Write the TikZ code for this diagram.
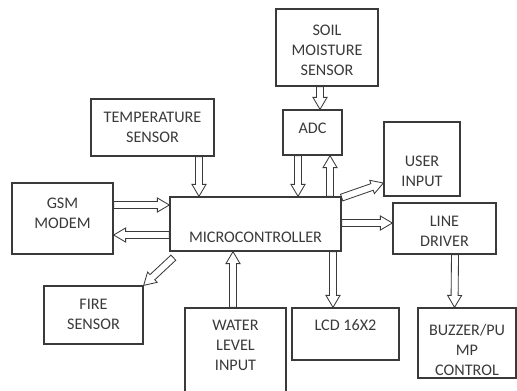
\documentclass[tikz,border=0pt]{standalone}
\usepackage{fontspec}
\setmainfont{Carlito}
\usepackage{xcolor}
\usepackage{tikz}
\usetikzlibrary{calc, positioning}

\definecolor{ink}{HTML}{3A3A3A}

\tikzset{
    box/.style={draw=ink, line width=0.9pt, align=center, text=ink, inner sep=2pt,
        font=\fontsize{11.5}{14.2}\selectfont},
    tx/.style 2 args={text height=#1, text depth=#2},
    hollow/.style={draw=ink, line width=0.6pt, line join=miter, to path={
        -- ($(\tikztostart)!2.5pt!90:(\tikztotarget)$)
        -- ($($(\tikztotarget)!8.5pt!(\tikztostart)$)!2.5pt!90:(\tikztotarget)$)
        -- ($($(\tikztotarget)!8.5pt!(\tikztostart)$)!5pt!90:(\tikztotarget)$)
        -- (\tikztotarget)
        -- ($($(\tikztotarget)!8.5pt!(\tikztostart)$)!5pt!-90:(\tikztotarget)$)
        -- ($($(\tikztotarget)!8.5pt!(\tikztostart)$)!2.5pt!-90:(\tikztotarget)$)
        -- ($(\tikztostart)!2.5pt!-90:(\tikztotarget)$)
        -- cycle}}
}

\begin{document}
\begin{tikzpicture}[x=0.025cm, y=-0.025cm]
    \useasboundingbox (0,0) rectangle (517,390);

    % Cac khoi
    \node[box, minimum width=2.55cm, minimum height=1.925cm, tx={1.45cm}{0.065cm}] (soil) at (327,47.5) {SOIL\\MOISTURE\\SENSOR};
    \node[box, minimum width=1.475cm, minimum height=1.125cm, tx={0.27cm}{0.21cm}] (adc) at (312.5,132.5) {ADC};
    \node[box, minimum width=1.9cm, minimum height=1.85cm, tx={1.43cm}{0.07cm}] (user) at (422,159) {USER\\INPUT};
    \node[box, minimum width=3.075cm, minimum height=1.425cm, tx={0.8cm}{0.065cm}] (temp) at (152.5,127.5) {TEMPERATURE\\SENSOR};
    \node[box, minimum width=2.525cm, minimum height=1.775cm, tx={0.555cm}{0.07cm}] (gsm) at (62.5,218.5) {GSM\\MODEM};
    \node[box, minimum width=4.275cm, minimum height=1.35cm, tx={0.98cm}{0.07cm}] (mcu) at (255.5,224) {MICROCONTROLLER};
    \node[box, minimum width=2.475cm, minimum height=1.45cm, tx={0.79cm}{0.065cm}] (fire) at (93.5,315) {FIRE\\SENSOR};
    \node[box, minimum width=2.525cm, minimum height=2.6cm, tx={0.58cm}{0.07cm}] (water) at (235.5,360) {WATER\\LEVEL\\INPUT};
    \node[box, minimum width=2.675cm, minimum height=1.3cm, tx={0.27cm}{0.46cm}] (lcd) at (345.5,334) {LCD 16X2};
    \node[box, minimum width=2.575cm, minimum height=1.275cm, tx={0.95cm}{0.065cm}] (line) at (444.5,228.5) {LINE\\DRIVER};
    \node[box, minimum width=2.45cm, minimum height=1.75cm, tx={1.61cm}{0cm}] (buzz) at (467,343) {BUZZER/PU\\MP\\CONTROL};

    % Cac mui ten
    \draw[hollow] ([xshift=-0.175cm]soil.south) to ([xshift=0.1875cm]adc.north);
    \draw[hollow] ([xshift=-0.3625cm]adc.south) to ([xshift=1.0625cm]mcu.north);
    \draw[hollow] ([xshift=1.8625cm]mcu.north) to ([xshift=0.4375cm]adc.south);
    \draw[hollow] ([yshift=-0.03cm]mcu.north east) to ([yshift=-0.6cm]user.west);
    \draw[hollow] ([xshift=1.1625cm]temp.south) to ([xshift=-1.4125cm]mcu.north);
    \draw[hollow] ([yshift=0.3375cm]gsm.east) to ([yshift=0.475cm]mcu.west);
    \draw[hollow] ([yshift=-0.275cm]mcu.west) to ([yshift=-0.4125cm]gsm.east);
    \draw[hollow] ([xshift=0.1cm, yshift=-0.15cm]mcu.south west) to (fire.north east);
    \draw[hollow] ([xshift=-0.0625cm]water.north) to ([xshift=-0.5625cm]mcu.south);
    \draw[hollow] ([xshift=1.9375cm]mcu.south) to ([xshift=-0.3125cm]lcd.north);
    \draw[hollow] ([yshift=0.025cm]mcu.east) to ([yshift=0.1375cm]line.west);
    \draw[hollow] ([xshift=0.2625cm]line.south) to ([xshift=-0.3125cm]buzz.north);
\end{tikzpicture}
\end{document}
